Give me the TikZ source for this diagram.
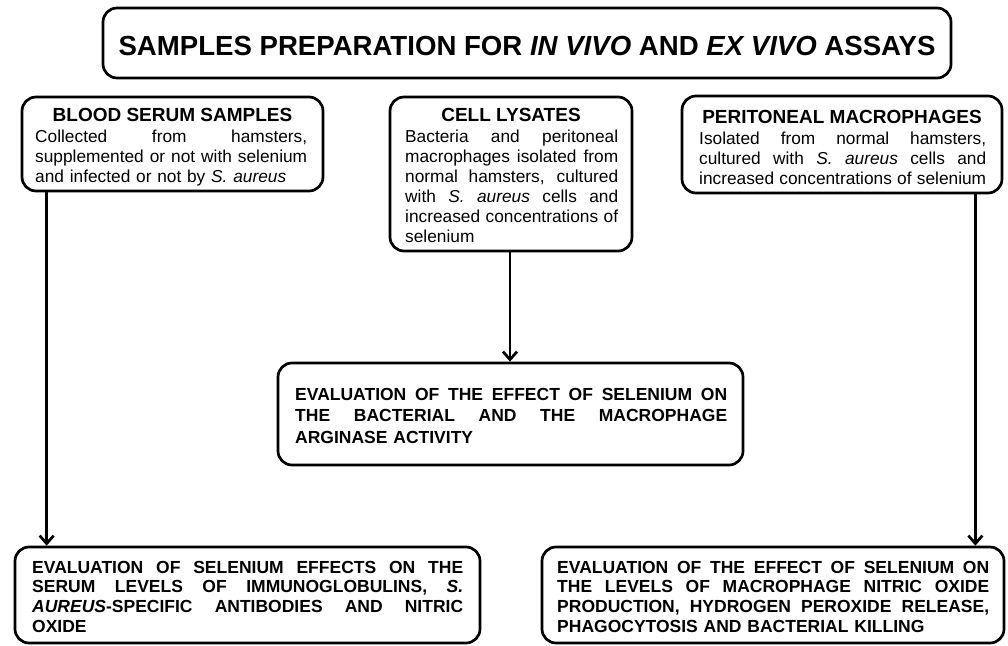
\documentclass[tikz,border=0pt]{standalone}
\usepackage{fontspec}
\setmainfont{Liberation Sans}
\usetikzlibrary{arrows.meta,calc}
\newcommand\jl[1]{\hbox to\hsize{\spaceskip=.278em plus 1fil\relax\xspaceskip=.278em plus 1fil\relax #1}\par}
\tikzset{
  box/.style={draw, line width=2.7pt, rounded corners=14pt, inner sep=0pt},
  txt/.style={inner sep=0pt, anchor=base west, align=left},
  bodyf/.style={font=\fontsize{17.3}{20}\selectfont},
  evalf/.style={font=\bfseries\fontsize{17.5}{21.5}\selectfont},
  evalg/.style={font=\bfseries\fontsize{17.5}{19.7}\selectfont},
  headf/.style={inner sep=0pt, anchor=base, font=\bfseries\fontsize{19}{22}\selectfont},
  arr/.style={line width=2.7pt, -{Straight Barb[length=8pt,width=14pt,line width=2.7pt]}}
}
\begin{document}
\begin{tikzpicture}[x=1pt,y=-1pt]
\useasboundingbox (0,0) rectangle (1008,645);
% boxes
\node[box, minimum width=848pt, minimum height=70pt] (title) at (527,43) {};
\node[box, minimum width=301pt, minimum height=94pt] (blood) at (172.5,144) {};
\node[box, minimum width=242pt, minimum height=154pt] (cell) at (511,174) {};
\node[box, minimum width=320pt, minimum height=97pt] (perit) at (842,144.5) {};
\node[box, minimum width=465pt, minimum height=102pt] (mid) at (510.5,414) {};
\node[box, minimum width=465pt, minimum height=96pt] (bl) at (247.5,595) {};
\node[box, minimum width=462pt, minimum height=96pt] (br) at (773,595) {};
% texts
\node[inner sep=0pt, anchor=base, font=\bfseries\fontsize{27.6}{30}\selectfont] (titletxt) at (527,55)
  {SAMPLES PREPARATION FOR \textit{IN VIVO} AND \textit{EX VIVO} ASSAYS};
\node[headf] (bloodh) at (172.5,121) {BLOOD SERUM SAMPLES};
\node[txt, bodyf, text width=272pt] (bloodt) at (35,142)
  {\jl{Collected from hamsters,}\jl{supplemented or not with selenium}and infected or not by \textit{S. aureus}};
\node[headf] (cellh) at (511,121) {CELL LYSATES};
\node[txt, bodyf, text width=213pt] (cellt) at (405,142)
  {\jl{Bacteria and peritoneal}\jl{macrophages isolated from}\jl{normal hamsters, cultured}\jl{with \textit{S. aureus} cells and}\jl{increased concentrations of}selenium};
\node[headf] (peith) at (842,123) {PERITONEAL MACROPHAGES};
\node[txt, bodyf, text width=287pt] (peritt) at (699,144)
  {\jl{Isolated from normal hamsters,}\jl{cultured with \textit{S. aureus} cells and}\jl{increased concentrations of selenium}};
\node[txt, evalf, text width=432pt] (midt) at (295,400)
  {\jl{EVALUATION OF THE EFFECT OF SELENIUM ON}\jl{THE BACTERIAL AND THE MACROPHAGE}ARGINASE ACTIVITY};
\node[txt, evalg, text width=431pt] (blt) at (32,573)
  {\jl{EVALUATION OF SELENIUM EFFECTS ON THE}\jl{SERUM LEVELS OF IMMUNOGLOBULINS, \textit{S.}}\jl{\textit{AUREUS}-SPECIFIC ANTIBODIES AND NITRIC}OXIDE};
\node[txt, evalg, text width=432pt] (brt) at (557,573)
  {\jl{EVALUATION OF THE EFFECT OF SELENIUM ON}\jl{THE LEVELS OF MACROPHAGE NITRIC OXIDE}\jl{PRODUCTION, HYDROGEN PEROXIDE RELEASE,}PHAGOCYTOSIS AND BACTERIAL KILLING};
% arrows
\coordinate (a1) at ([xshift=26pt]blood.south west);
\draw[arr] (a1) -- (a1 |- bl.north);
\coordinate (a2) at ([xshift=-1pt]cell.south);
\draw[arr] (a2) -- (a2 |- mid.north);
\coordinate (a3) at ([xshift=-28pt]perit.south east);
\draw[arr] (a3) -- (a3 |- br.north);
\end{tikzpicture}
\end{document}
